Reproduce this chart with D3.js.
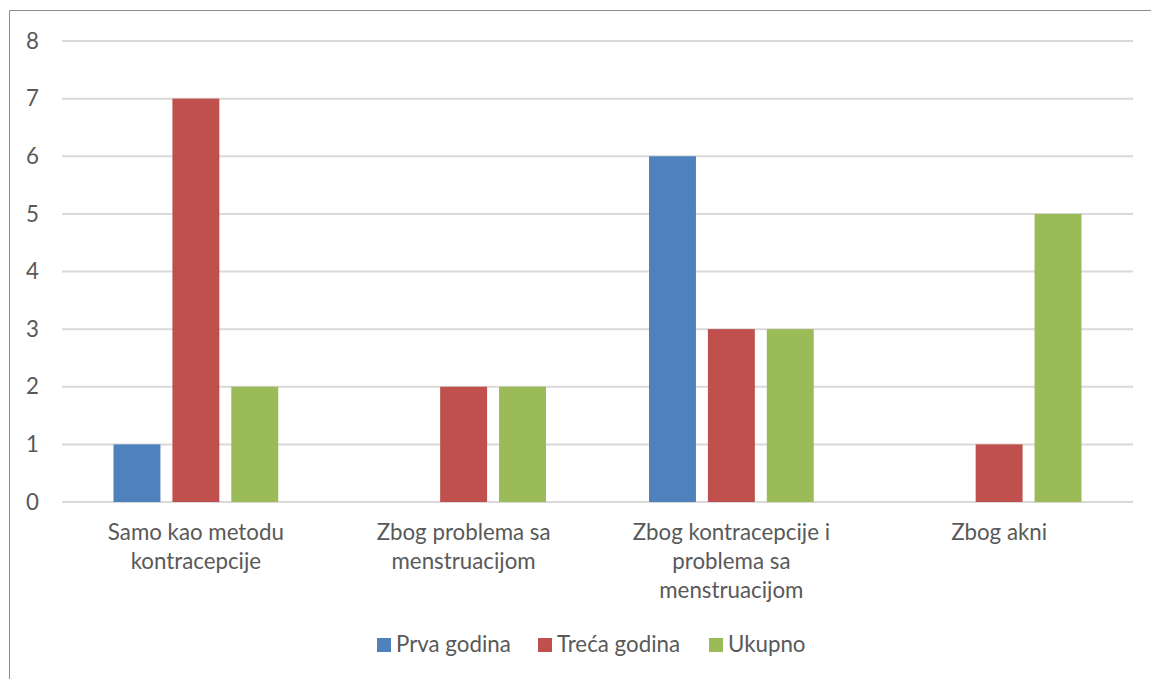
<!DOCTYPE html>
<html>
<head>
<meta charset="utf-8">
<script src="https://cdn.jsdelivr.net/npm/d3@7.9.0/dist/d3.min.js"></script>
<style>
  body { margin: 0; background: #fff; }
  svg { display: block; font-family: Lato, "Open Sans", sans-serif; }
</style>
</head>
<body>
<svg id="chart" width="1151" height="679"></svg>
<script>
const categories = [
  'Samo kao metodu kontracepcije',
  'Zbog problema sa menstruacijom',
  'Zbog kontracepcije i problema sa menstruacijom',
  'Zbog akni'
];
const seriesNames = ['Prva godina', 'Treća godina', 'Ukupno'];
const prvaGodina = [1, 0, 6, 0];
const trecaGodina = [7, 2, 3, 1];
const ukupno = [2, 2, 3, 5];
const yTicks = [0, 1, 2, 3, 4, 5, 6, 7, 8];
const colors = ['#4f81bd', '#c0504d', '#9bbb59'];

const values = [prvaGodina, trecaGodina, ukupno];

const svg = d3.select('#chart');
const plot = { left: 62, right: 1133, top: 41, bottom: 502 };
const fontSize = '22.3px';

// chart frame (cropped on the right and bottom)
svg.append('path')
  .attr('d', 'M9.5,679 L9.5,10.5 L1151,10.5')
  .attr('fill', 'none')
  .attr('stroke', '#8c8c8c')
  .attr('stroke-width', 1);

let y = d3.scaleLinear().domain([0, 8]).range([plot.bottom, plot.top]);
let x0 = d3.scaleBand().domain(categories).range([plot.left, plot.right]).padding(0);
let groupPad = 51.5;
let x1 = d3.scaleBand().domain(seriesNames)
  .range([groupPad, x0.bandwidth() - groupPad])
  .paddingInner(0.203).paddingOuter(0);

// gridlines
svg.append('g')
  .selectAll('line')
  .data(yTicks)
  .join('line')
  .attr('x1', plot.left)
  .attr('x2', plot.right)
  .attr('y1', (d) => y(d))
  .attr('y2', (d) => y(d))
  .attr('stroke', '#d9d9d9')
  .attr('stroke-width', 2);

// y axis labels
let yAxis = d3.axisLeft(y).tickValues(yTicks).tickSize(0).tickPadding(0);
let yg = svg.append('g').attr('transform', 'translate(39,0)').call(yAxis);
yg.select('.domain').remove();
yg.selectAll('text')
  .attr('fill', '#595959')
  .style('font-size', fontSize)
  .style('font-family', 'Lato, "Open Sans", sans-serif');

// bars
categories.forEach((cat, ci) => {
  let g = svg.append('g').attr('transform', `translate(${x0(cat)},0)`);
  seriesNames.forEach((s, si) => {
    let v = values[si][ci];
    if (v === 0) return;
    g.append('rect')
      .attr('x', x1(s))
      .attr('y', y(v))
      .attr('width', x1.bandwidth())
      .attr('height', y(0) - y(v))
      .attr('fill', colors[si]);
  });
});

// category labels with wrapping
let xg = svg.append('g');
categories.forEach((cat) => {
  let cx = x0(cat) + x0.bandwidth() / 2;
  let t = xg.append('text')
    .attr('x', cx)
    .attr('y', 540)
    .attr('text-anchor', 'middle')
    .attr('fill', '#595959')
    .style('font-size', fontSize);
  let words = cat.split(' ');
  let lines = [];
  let line = [];
  let probe = t.append('tspan');
  words.forEach((w) => {
    line.push(w);
    probe.text(line.join(' '));
    if (probe.node().getComputedTextLength() > 220 && line.length > 1) {
      line.pop();
      lines.push(line.join(' '));
      line = [w];
    }
  });
  lines.push(line.join(' '));
  probe.remove();
  lines.forEach((l, i) => {
    t.append('tspan')
      .attr('x', cx)
      .attr('dy', i === 0 ? 0 : 29)
      .text(l);
  });
});

// legend
let legend = svg.append('g');
let lx = [377, 538, 709];
seriesNames.forEach((s, i) => {
  legend.append('rect')
    .attr('x', lx[i])
    .attr('y', 638)
    .attr('width', 14)
    .attr('height', 14)
    .attr('fill', colors[i]);
  legend.append('text')
    .attr('x', lx[i] + 19)
    .attr('y', 652)
    .attr('fill', '#595959')
    .style('font-size', fontSize)
    .text(s);
});
</script>
</body>
</html>
